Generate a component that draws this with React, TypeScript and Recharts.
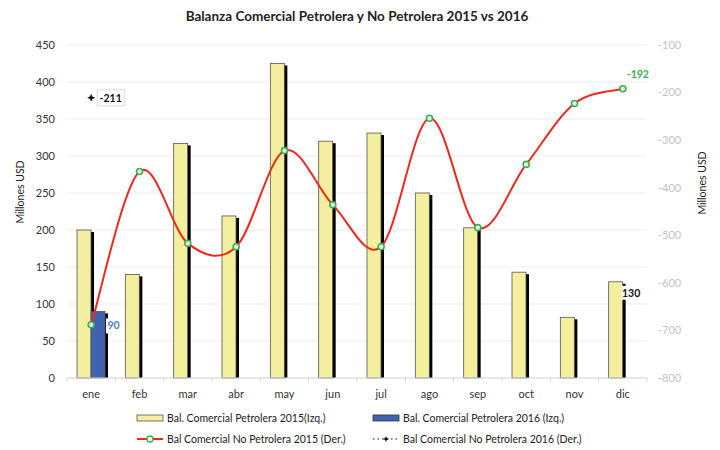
import React from 'react';
import { ComposedChart, Bar, Line, XAxis, YAxis, CartesianGrid, LabelList } from 'recharts';

const months = ['ene', 'feb', 'mar', 'abr', 'may', 'jun', 'jul', 'ago', 'sep', 'oct', 'nov', 'dic'];
const petrolera2015 = [200, 140, 317, 219, 425, 320, 331, 250, 203, 143, 82, 130];
const petrolera2016 = [90, null, null, null, null, null, null, null, null, null, null, null];
const noPetrolera2015 = [-688, -366, -517, -524, -322, -436, -524, -254, -484, -351, -223, -192];
const noPetrolera2016 = [-211, null, null, null, null, null, null, null, null, null, null, null];
const leftTicks = [0, 50, 100, 150, 200, 250, 300, 350, 400, 450];
const rightTicks = [-800, -700, -600, -500, -400, -300, -200, -100];

const data = months.map((m, i) => ({
  month: m,
  p15: petrolera2015[i],
  p16: petrolera2016[i],
  np15: noPetrolera2015[i],
  np16: noPetrolera2016[i],
}));

const FONT = 'Lato, "Open Sans", sans-serif';
const YELLOW = '#f3ef9e';
const BLUE = '#3f63ae';
const RED = '#f0281c';
const GREEN = '#3aae55';

const W = 720;
const H = 450;
const PLOT_LEFT = 67;
const PLOT_RIGHT = 647;
const HALF_BAND = (PLOT_RIGHT - PLOT_LEFT) / months.length / 2;

// Excel-like smoothed line (Catmull-Rom through the points)
const excelSmooth = (context: any) => {
  let pts: number[][] = [];
  return {
    areaStart() {},
    areaEnd() {},
    lineStart() {
      pts = [];
    },
    point(x: number, y: number) {
      pts.push([+x, +y]);
    },
    lineEnd() {
      if (!pts.length) return;
      context.moveTo(pts[0][0], pts[0][1]);
      const t = 1 / 6;
      for (let i = 0; i < pts.length - 1; i++) {
        const p0 = pts[i - 1] || pts[i];
        const p1 = pts[i];
        const p2 = pts[i + 1];
        const p3 = pts[i + 2] || p2;
        context.bezierCurveTo(
          p1[0] + (p2[0] - p0[0]) * t,
          p1[1] + (p2[1] - p0[1]) * t,
          p2[0] - (p3[0] - p1[0]) * t,
          p2[1] - (p3[1] - p1[1]) * t,
          p2[0],
          p2[1]
        );
      }
    },
  };
};

const shadowBar = (fill: string) => (props: any) => {
  const { x, y, width, height } = props;
  if (!height || height <= 0) return null;
  return (
    <g>
      <rect x={x + 3} y={y + 2} width={width} height={height - 2} fill="#000" />
      <rect x={x} y={y} width={width} height={height} fill={fill} stroke="#555" strokeWidth={0.8} />
    </g>
  );
};

const starPath = (cx: number, cy: number, r: number) => {
  const k = r * 0.3;
  return `M${cx},${cy - r} L${cx + k},${cy - k} L${cx + r},${cy} L${cx + k},${cy + k} L${cx},${cy + r} L${cx - k},${cy + k} L${cx - r},${cy} L${cx - k},${cy - k} Z`;
};

const GreenDot = (props: any) => {
  const { cx, cy } = props;
  if (cx == null || cy == null) return null;
  return <circle cx={cx} cy={cy} r={3} fill="#e6f4e6" stroke={GREEN} strokeWidth={1.6} />;
};

const StarDot = (props: any) => {
  const { cx, cy } = props;
  if (cx == null || cy == null) return null;
  return <path d={starPath(cx, cy, 4)} fill="#111" />;
};

const XTick = (props: any) => {
  const { x, y, payload, index } = props;
  return (
    <g>
      <line x1={x - HALF_BAND} x2={x - HALF_BAND} y1={y - 8} y2={y - 4} stroke="#d9d9d9" />
      {index === months.length - 1 && (
        <line x1={x + HALF_BAND} x2={x + HALF_BAND} y1={y - 8} y2={y - 4} stroke="#d9d9d9" />
      )}
      <text x={x} y={y + 12} textAnchor="middle" fontSize={11} fill="#333" fontFamily={FONT}>
        {payload.value}
      </text>
    </g>
  );
};

const label2016Bar = (props: any) => {
  const { x, y, width, index, value } = props;
  if (index !== 0 || value == null) return null;
  return (
    <g>
      <rect x={x + width + 1} y={y + 7} width={15} height={15} fill="#fff" />
      <text x={x + width + 8.5} y={y + 18} textAnchor="middle" fontSize={10.5} fontWeight={700} fill="#4f82c4" fontFamily={FONT}>
        {value}
      </text>
    </g>
  );
};

const label2015Bar = (props: any) => {
  const { x, y, width, index, value } = props;
  if (index !== months.length - 1) return null;
  return (
    <g>
      <rect x={x + width - 1} y={y + 4} width={19} height={14} fill="#fff" />
      <text x={x + width + 8.5} y={y + 15} textAnchor="middle" fontSize={10.5} fontWeight={700} fill="#111" fontFamily={FONT}>
        {value}
      </text>
    </g>
  );
};

const labelNp15 = (props: any) => {
  const { x, y, index, value } = props;
  if (index !== months.length - 1) return null;
  return (
    <text x={x + 15} y={y - 11} textAnchor="middle" fontSize={10.5} fontWeight={700} fill={GREEN} fontFamily={FONT}>
      {value}
    </text>
  );
};

const labelNp16 = (props: any) => {
  const { x, y, index, value } = props;
  if (index !== 0 || value == null) return null;
  return (
    <g>
      <rect x={x + 6} y={y - 8} width={27} height={16} fill="#fff" stroke="#d0d0d0" strokeWidth={0.8} />
      <text x={x + 19.5} y={y + 4} textAnchor="middle" fontSize={10.5} fontWeight={700} fill="#111" fontFamily={FONT}>
        {value}
      </text>
    </g>
  );
};

export default function App() {
  return (
    <div style={{ position: 'absolute', left: 0, top: 0, width: W, height: H, background: '#fff', fontFamily: FONT }}>
      <ComposedChart
        width={W}
        height={H}
        data={data}
        margin={{ top: 45, right: W - PLOT_RIGHT - 50, bottom: 72 - 20, left: PLOT_LEFT - 50 }}
        barGap={0}
      >
        <CartesianGrid yAxisId="left" vertical={false} stroke="#ededed" />
        <XAxis
          dataKey="month"
          height={20}
          axisLine={{ stroke: '#d9d9d9' }}
          tickLine={false}
          tick={<XTick />}
          interval={0}
        />
        <YAxis
          yAxisId="left"
          width={50}
          domain={[0, 450]}
          ticks={leftTicks}
          axisLine={false}
          tickLine={false}
          tickMargin={6}
          tick={{ fontSize: 11, fill: '#333', fontFamily: FONT }}
        />
        <YAxis
          yAxisId="right"
          orientation="right"
          width={50}
          domain={[-800, -100]}
          ticks={rightTicks}
          axisLine={false}
          tickLine={false}
          tickMargin={5}
          tick={{ fontSize: 11, fill: '#c4c4c4', fontFamily: FONT }}
        />
        <Bar yAxisId="left" dataKey="p15" barSize={14} fill={YELLOW} shape={shadowBar(YELLOW)} isAnimationActive={false}>
          <LabelList dataKey="p15" content={label2015Bar} />
        </Bar>
        <Bar yAxisId="left" dataKey="p16" barSize={14} fill={BLUE} shape={shadowBar(BLUE)} isAnimationActive={false}>
          <LabelList dataKey="p16" content={label2016Bar} />
        </Bar>
        <Line
          yAxisId="right"
          type={excelSmooth as any}
          dataKey="np15"
          stroke={RED}
          strokeWidth={2}
          dot={<GreenDot />}
          activeDot={false}
          isAnimationActive={false}
        >
          <LabelList dataKey="np15" content={labelNp15} />
        </Line>
        <Line
          yAxisId="right"
          type="linear"
          dataKey="np16"
          stroke="#111"
          strokeDasharray="1.5 3"
          dot={<StarDot />}
          activeDot={false}
          isAnimationActive={false}
        >
          <LabelList dataKey="np16" content={labelNp16} />
        </Line>
      </ComposedChart>

      <svg width={W} height={H} style={{ position: 'absolute', left: 0, top: 0, pointerEvents: 'none' }}>
        <text x={357} y={21} textAnchor="middle" fontSize={13.5} fontWeight={700} fill="#222" fontFamily={FONT}>
          Balanza Comercial Petrolera y No Petrolera 2015 vs 2016
        </text>
        <text transform="translate(24,192) rotate(-90)" textAnchor="middle" fontSize={10.5} fill="#222" fontFamily={FONT}>
          Millones USD
        </text>
        <text transform="translate(706,183) rotate(-90)" textAnchor="middle" fontSize={10.5} fill="#222" fontFamily={FONT}>
          Millones USD
        </text>

        <rect x={137} y={415} width={26} height={6} fill={YELLOW} stroke="#555" strokeWidth={0.8} />
        <text x={167} y={422} fontSize={10.5} fill="#222" fontFamily={FONT}>Bal. Comercial Petrolera 2015(Izq.)</text>
        <rect x={373} y={415} width={26} height={6} fill={BLUE} stroke="#333" strokeWidth={0.8} />
        <text x={403} y={422} fontSize={10.5} fill="#222" fontFamily={FONT}>Bal. Comercial Petrolera 2016 (Izq.)</text>

        <line x1={137} x2={163} y1={439} y2={439} stroke={RED} strokeWidth={2} />
        <circle cx={150} cy={439} r={3} fill="#fff" stroke={GREEN} strokeWidth={1.4} />
        <text x={167} y={443} fontSize={10.5} fill="#222" fontFamily={FONT}>Bal Comercial No Petrolera 2015 (Der.)</text>
        <line x1={373} x2={400} y1={439} y2={439} stroke="#111" strokeWidth={1.2} strokeDasharray="1.5 3" />
        <path d={starPath(386, 439, 3)} fill="#111" />
        <text x={403} y={443} fontSize={10.5} fill="#222" fontFamily={FONT}>Bal Comercial No Petrolera 2016 (Der.)</text>
      </svg>
    </div>
  );
}
